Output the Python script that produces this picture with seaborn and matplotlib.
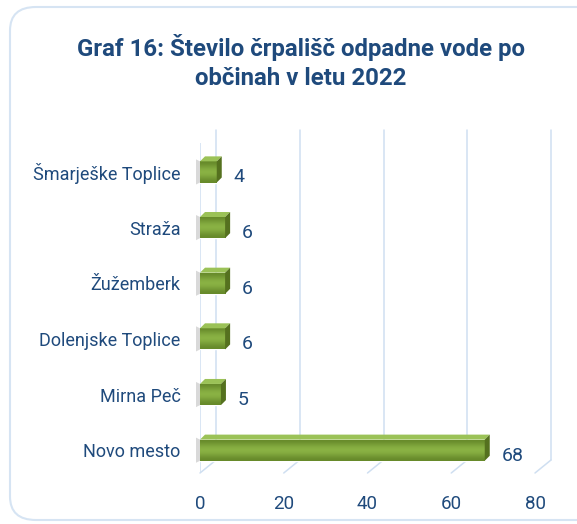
import numpy as np
import pandas as pd
import matplotlib
matplotlib.use('Agg')
import matplotlib.pyplot as plt
import matplotlib.transforms as mtransforms
from matplotlib.patches import FancyBboxPatch, Polygon
import seaborn as sns

# data
municipalities = ['Šmarješke Toplice', 'Straža', 'Žužemberk',
                  'Dolenjske Toplice', 'Mirna Peč', 'Novo mesto']
pump_stations = [4, 6, 6, 6, 5, 68]
x_ticks = [0, 20, 40, 60, 80]
title = 'Graf 16: Število črpališč odpadne vode po\nobčinah v letu 2022'

df = pd.DataFrame({'obcina': municipalities, 'st': pump_stations})

sns.set_theme(style='white')
plt.rcParams['font.family'] = ['Roboto', 'DejaVu Sans']

navy = '#1f4a7c'
grid_col = '#cfdff1'
W, H = 577, 524

fig = plt.figure(figsize=(W / 100, H / 100), dpi=100)

# rounded frame
frame = FancyBboxPatch((10 / W, 4 / H), (W + 20) / W, (H - 11) / H,
                       boxstyle='round,pad=0,rounding_size=0.045',
                       transform=fig.transFigure, fc='white',
                       ec='#d6e4f3', lw=1.5, zorder=-5)
fig.patches.append(frame)

# axes = front plane of the 3d box
left, right, top, bottom = 200, 535, 143, 473
ax = fig.add_axes([left / W, (H - bottom) / H, (right - left) / W, (bottom - top) / H])
ax.set_zorder(2)
ax.patch.set_alpha(0)

sns.barplot(data=df, y='obcina', x='st', orient='h', color='#7ea536',
            width=0.38, saturation=1, ax=ax, zorder=3)
ax.set_xlim(0, 80)
ax.set_ylim(5.41, -0.52)

# back wall + floor gridlines
dx, dy = 16, 13
back = mtransforms.offset_copy(ax.transData, fig=fig, x=dx, y=dy, units='dots')
back_axes = mtransforms.offset_copy(ax.transAxes, fig=fig, x=dx, y=dy, units='dots')
back_x = mtransforms.blended_transform_factory(back, back_axes)
front_floor = mtransforms.blended_transform_factory(ax.transData, ax.transAxes)
for v in x_ticks:
    ax.plot([v, v], [0, 1], color=grid_col, lw=1.1, transform=back_x, zorder=1, clip_on=False)
    p0 = front_floor.transform((v, 0))
    p1 = back_x.transform((v, 0))
    ax.plot([p0[0], p1[0]], [p0[1], p1[1]], color=grid_col, lw=1.1,
            transform=mtransforms.IdentityTransform(), zorder=1, clip_on=False)
ax.axvline(0, color=grid_col, lw=1.1, zorder=1)

# 3d faces and shading of bars
d = 5
cmap = matplotlib.colors.LinearSegmentedColormap.from_list('g', ['#66892a', '#8fb848'])
grad = np.array([[0.0], [0.6], [1.0], [0.6], [0.0]])
ident = mtransforms.IdentityTransform()
for p in list(ax.patches):
    x0, y0 = p.get_x(), p.get_y()
    w, h = p.get_width(), p.get_height()
    tl = ax.transData.transform((x0, y0))
    tr = ax.transData.transform((x0 + w, y0))
    br = ax.transData.transform((x0 + w, y0 + h))
    bl = ax.transData.transform((x0, y0 + h))
    # soft shadow on the left wall
    ax.add_artist(Polygon([tl + [-4, 2], tl, bl, bl + [-4, -2]], closed=True,
                          fc='#d9d9d9', ec='none', transform=ident, zorder=2, clip_on=False))
    ax.add_artist(Polygon([tl, tr, tr + [d, d], tl + [d, d]], closed=True,
                          fc='#9bc257', ec='none', transform=ident, zorder=4, clip_on=False))
    ax.add_artist(Polygon([tr, br, br + [d, d], tr + [d, d]], closed=True,
                          fc='#55711f', ec='none', transform=ident, zorder=4, clip_on=False))
    im = ax.imshow(grad, extent=[x0, x0 + w, y0 + h, y0], aspect='auto',
                   cmap=cmap, interpolation='bicubic', zorder=3.5)
    im.set_clip_path(p)

ax.set_xlim(0, 80)
ax.set_ylim(5.41, -0.52)

# value labels
for i, v in enumerate(pump_stations):
    ax.annotate(str(v), (v, i), xytext=(12, -4), textcoords='offset points',
                ha='left', va='center', color=navy, fontsize=14)

ax.set_xticks(x_ticks)
ax.tick_params(axis='x', length=0, pad=16, labelsize=13.5)
ax.tick_params(axis='y', length=0, pad=14, labelsize=13)
for lab in ax.get_xticklabels() + ax.get_yticklabels():
    lab.set_color(navy)
ax.set_xlabel('')
ax.set_ylabel('')
for s in ax.spines.values():
    s.set_visible(False)
ax.grid(False)

fig.text(301 / W, 1 - 62 / H, title, ha='center', va='center', fontsize=17.3,
         fontweight='bold', color=navy, linespacing=1.35)

fig.savefig('out.png', dpi=100)
